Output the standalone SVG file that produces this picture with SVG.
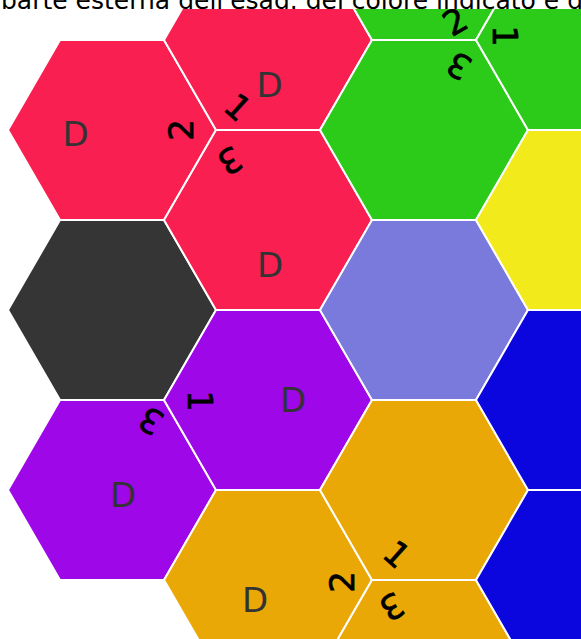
<svg xmlns="http://www.w3.org/2000/svg" width="581" height="639" viewBox="0 0 581 639">
<style>
.hx{stroke:#fff;stroke-width:2;stroke-linejoin:miter}
.red{fill:#f91f51}
.green{fill:#2dcb19}
.yellow{fill:#f2ea1b}
.lav{fill:#7a7adc}
.gray{fill:#353535}
.purple{fill:#9e07e8}
.orange{fill:#eaa806}
.blue{fill:#0c06de}
.d{font-family:"DejaVu Sans",sans-serif;font-size:34px;fill:#333;text-anchor:middle}
.n{font-family:"DejaVu Sans",sans-serif;font-size:34px;fill:#000;stroke:#000;stroke-width:0.7;text-anchor:middle}
.title{font-family:"DejaVu Sans",sans-serif;font-size:25px;fill:#000}
</style>
<defs>
<polygon id="hex" points="-104,0 -52,-90 52,-90 104,0 52,90 -52,90"/>
<clipPath id="cb"><rect x="0" y="9" width="581" height="630"/></clipPath>
<clipPath id="ct"><rect x="0" y="0" width="581" height="9"/></clipPath>
</defs>
<rect width="581" height="639" fill="#fff"/>
<text class="title" x="1" y="8.5" clip-path="url(#ct)">parte esterna dell'esag. del colore indicato e d</text>
<g id="board" clip-path="url(#cb)">
<g id="h-a1"><use href="#hex" x="112" y="130" class="hx red"/><text class="d" x="75.5" y="146">D</text><text class="n" transform="translate(181,130) rotate(-90)" y="12.4">2</text></g>
<g id="h-a2"><use href="#hex" x="112" y="310" class="hx gray"/></g>
<g id="h-a3"><use href="#hex" x="112" y="490" class="hx purple"/><text class="d" x="123" y="507">D</text><text class="n" transform="translate(151,421) rotate(210)" y="12.4">3</text></g>
<g id="h-b1"><use href="#hex" x="268" y="40" class="hx red"/><text class="d" x="269.5" y="97">D</text><text class="n" transform="translate(238,107) rotate(42)" y="12.4">1</text></g>
<g id="h-b2"><use href="#hex" x="268" y="220" class="hx red"/><text class="d" x="270" y="277">D</text><text class="n" transform="translate(230,161) rotate(150)" y="12.4">3</text></g>
<g id="h-b3"><use href="#hex" x="268" y="400" class="hx purple"/><text class="d" x="293" y="412">D</text><text class="n" transform="translate(200,401) rotate(90)" y="12.4">1</text></g>
<g id="h-b4"><use href="#hex" x="268" y="580" class="hx orange"/><text class="d" x="255" y="612">D</text><text class="n" transform="translate(342,582) rotate(-90)" y="12.4">2</text></g>
<g id="h-c0"><use href="#hex" x="424" y="-50" class="hx green"/><text class="n" transform="translate(455,21) rotate(-30)" y="12.4">2</text></g>
<g id="h-c1"><use href="#hex" x="424" y="130" class="hx green"/><text class="n" transform="translate(459,66) rotate(210)" y="12.4">3</text></g>
<g id="h-c2"><use href="#hex" x="424" y="310" class="hx lav"/></g>
<g id="h-c3"><use href="#hex" x="424" y="490" class="hx orange"/><text class="n" transform="translate(397,554) rotate(42)" y="12.4">1</text></g>
<g id="h-c4"><use href="#hex" x="424" y="670" class="hx orange"/><text class="n" transform="translate(392,607) rotate(150)" y="12.4">3</text></g>
<g id="h-d1"><use href="#hex" x="580" y="40" class="hx green"/><text class="n" transform="translate(505,36) rotate(90)" y="12.4">1</text></g>
<g id="h-d2"><use href="#hex" x="580" y="220" class="hx yellow"/></g>
<g id="h-d3"><use href="#hex" x="580" y="400" class="hx blue"/></g>
<g id="h-d4"><use href="#hex" x="580" y="580" class="hx blue"/></g>
</g>
</svg>
